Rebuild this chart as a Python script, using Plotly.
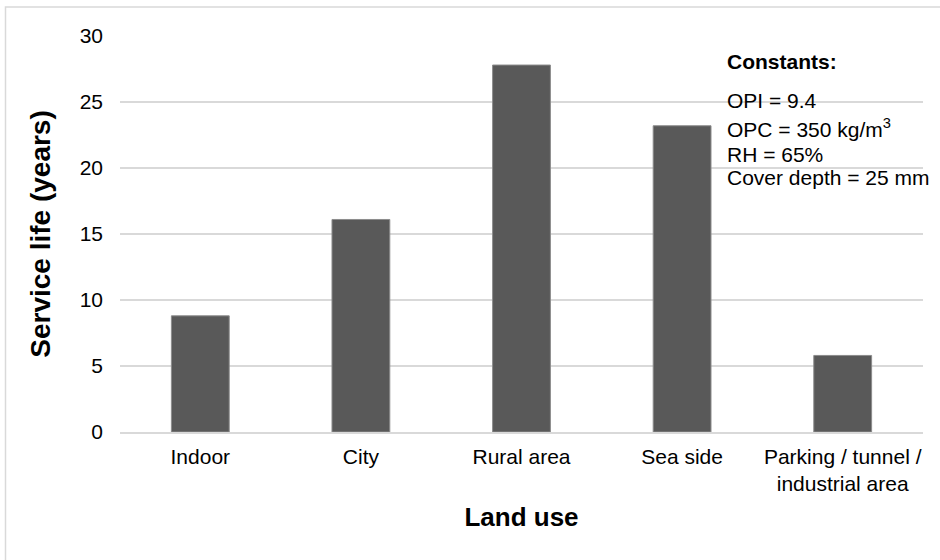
import plotly.graph_objects as go

# Service life by land use
land_use = ["Indoor", "City", "Rural area", "Sea side", "Parking / tunnel /<br>industrial area"]
service_life = [8.8, 16.1, 27.8, 23.2, 5.8]
y_ticks = [0, 5, 10, 15, 20, 25, 30]

constants_title = "<b>Constants:</b>"
constants_lines = ["OPI = 9.4", "OPC = 350 kg/m<sup>3</sup>", "RH = 65%", "Cover depth = 25 mm"]

FONT = "Liberation Sans, Arial, sans-serif"
GRID = "#d9d9d9"
TXT = 21
TITLE = 26

fig = go.Figure()
fig.add_trace(go.Bar(
    x=land_use,
    y=service_life,
    width=0.36,
    marker=dict(color="#595959", line=dict(color="#8c8c8c", width=1)),
    showlegend=False,
    hoverinfo="x+y",
))

# plot area: x 120..923 px, y 36..432 px
L, R, T, B = 120, 17, 36, 128
W, H = 940, 560
pw, ph = W - L - R, H - T - B


def px_to_paper_x(px):
    return (px - L) / pw


def px_to_paper_y(py):
    return (H - B - py) / ph


annotations = [dict(
    text=constants_title, x=px_to_paper_x(725), y=px_to_paper_y(62),
    xref="paper", yref="paper", xanchor="left", yanchor="middle",
    showarrow=False, font=dict(family=FONT, size=TXT, color="#000"),
)]
line_centers = [100, 128, 154, 177]
for txt, cy in zip(constants_lines, line_centers):
    annotations.append(dict(
        text=txt, x=px_to_paper_x(725), y=px_to_paper_y(cy),
        xref="paper", yref="paper", xanchor="left", yanchor="middle",
        showarrow=False, font=dict(family=FONT, size=TXT, color="#000"),
    ))

fig.update_layout(
    width=W, height=H,
    margin=dict(l=L, r=R, t=T, b=B),
    paper_bgcolor="white",
    plot_bgcolor="white",
    font=dict(family=FONT, size=TXT, color="#000"),
    bargap=0.64,
    annotations=annotations,
    shapes=[dict(
        type="rect", xref="paper", yref="paper",
        x0=px_to_paper_x(5.5), x1=px_to_paper_x(946),
        y0=px_to_paper_y(566), y1=px_to_paper_y(7),
        line=dict(color=GRID, width=1.5), fillcolor="rgba(0,0,0,0)", layer="below",
    )],
    xaxis=dict(
        showgrid=False,
        showline=True, linecolor=GRID, linewidth=1.5,
        ticks="", ticklabelstandoff=5,
        tickfont=dict(family=FONT, size=TXT, color="#000"),
        automargin=False,
        title=dict(text="<b>Land use</b>", font=dict(family=FONT, size=TITLE, color="#000"), standoff=14),
        fixedrange=True,
    ),
    yaxis=dict(
        range=[0, 30],
        tickvals=y_ticks,
        showgrid=True, gridcolor=GRID, gridwidth=1.5,
        zeroline=False, showline=False,
        ticks="", ticklabelstandoff=16,
        tickfont=dict(family=FONT, size=TXT, color="#000"),
        automargin=False,
        title=dict(text="<b>Service life (years)</b>", font=dict(family=FONT, size=28, color="#000"), standoff=20),
        fixedrange=True,
    ),
)

fig.write_html("out.html")
